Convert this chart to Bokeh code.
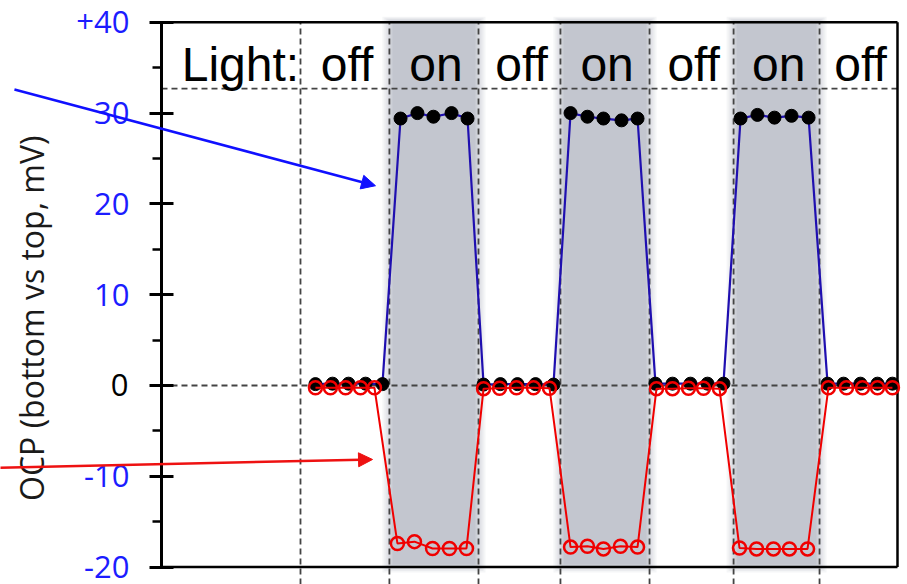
from bokeh.plotting import figure
from bokeh.models import Range1d, FixedTicker, Label, Arrow, NormalHead, LinearAxis
from bokeh.core.properties import value
from bokeh.embed import file_html
from bokeh.resources import INLINE

# ---- data: open-circuit potential, bottom electrode vs top (mV) ----
# illuminated cell measured through light off / on cycles, one reading per minute
top_t = [0.86, 1.84, 2.76, 3.74, 4.71,
         5.75, 6.72, 7.64, 8.68, 9.60,
         10.52, 11.49, 12.47, 13.51, 14.54,
         15.52, 16.49, 17.41, 18.45, 19.37,
         20.40, 21.38, 22.41, 23.39, 24.31,
         25.29, 26.26, 27.24, 28.22, 29.20,
         30.29, 31.21, 32.18, 33.16, 34.02]
top_v = [0.15, 0.2, 0.2, 0.2, 0.15,
         29.4, 30.0, 29.6, 30.0, 29.4,
         0.1, 0.15, 0.15, 0.15, 0.1,
         30.0, 29.6, 29.4, 29.2, 29.4,
         0.2, 0.2, 0.2, 0.2, 0.2,
         29.4, 29.8, 29.5, 29.7, 29.5,
         0.2, 0.2, 0.2, 0.2, 0.2]

bot_t = [0.86, 1.72, 2.59, 3.45, 4.25,
         5.57, 6.55, 7.59, 8.56, 9.54,
         10.52, 11.44, 12.41, 13.39, 14.31,
         15.52, 16.49, 17.41, 18.39, 19.37,
         20.46, 21.38, 22.30, 23.16, 24.08,
         25.23, 26.21, 27.18, 28.10, 29.14,
         30.34, 31.38, 32.30, 33.16, 34.02]
bot_v = [-0.25, -0.25, -0.25, -0.25, -0.25,
         -17.4, -17.2, -17.95, -17.95, -17.95,
         -0.35, -0.3, -0.25, -0.25, -0.3,
         -17.8, -17.7, -18.0, -17.7, -17.8,
         -0.35, -0.35, -0.3, -0.3, -0.35,
         -17.9, -18.0, -18.0, -18.0, -18.0,
         -0.25, -0.25, -0.25, -0.25, -0.25]

# light switching times (min) and the state of each interval
switch_t = [0.0, 5.11, 10.23, 14.94, 20.06, 24.89, 29.83]
light_state = ["off", "on", "off", "on", "off", "on", "off"]

y_ticks = [-20, -10, 0, 10, 20, 30, 40]
y_minor = [-15, -5, 5, 15, 25, 35]
y_min, y_max = -20, 40
t_axis = -7.989        # where the y axis crosses
t_end = 34.31          # right edge of the boxed area
header_y = 32.7        # divider under the light-state row
header_text_y = 35.4   # vertical centre of the light-state words

BLUE_TXT = "#1c1cff"
LINE_BLUE = "#1f0fb0"
RED = "#f00000"
DASH = "#444444"
SHADE = (195, 198, 207)

x_lo, x_hi = -17.241, 34.885
y_lo, y_hi = -21.92, 42.40

p = figure(width=907, height=584, output_backend="svg", toolbar_location=None,
           x_range=Range1d(x_lo, x_hi), y_range=Range1d(y_lo, y_hi),
           x_axis_location=None, y_axis_location=None,
           min_border_left=0, min_border_right=0, min_border_top=0, min_border_bottom=0)
p.outline_line_color = None
p.grid.visible = False
p.background_fill_color = "white"
p.border_fill_color = "white"

# shaded "light on" intervals with soft edges
px_t = 1 / 17.4
px_v = 1 / 9.08
n_layers = 6
for i in range(1, len(switch_t) - 1):
    if light_state[i] != "on":
        continue
    t0, t1 = switch_t[i], switch_t[i + 1]
    for k in range(n_layers):
        f = (k + 1) / n_layers
        col = "#%02x%02x%02x" % tuple(int(round(255 + (c - 255) * f)) for c in SHADE)
        d = -7 + 2 * k
        p.quad(left=t0 + d * px_t, right=t1 - d * px_t,
               bottom=y_min - 0.6 + (d + 7) * px_v * 0.8,
               top=y_max + 0.6 - (d + 7) * px_v * 0.5,
               fill_color=col, line_color=None)

# dashed guides
n_sw = len(switch_t)
p.segment(x0=switch_t, y0=[y_lo] * n_sw, x1=switch_t, y1=[y_max] * n_sw,
          line_color=DASH, line_width=1.8, line_dash="6 4")
p.segment(x0=[t_axis, t_axis], y0=[0, header_y], x1=[t_end, t_end], y1=[0, header_y],
          line_color=DASH, line_width=1.8, line_dash="6 4")

# box around the data area (left side is the y axis)
p.segment(x0=[t_axis, t_axis, t_end], y0=[y_max, y_min, y_min],
          x1=[t_end, t_end, t_end], y1=[y_max, y_min, y_max],
          line_color="black", line_width=2.5)

# series
p.line(top_t, top_v, line_color=LINE_BLUE, line_width=2.2)
p.scatter(top_t, top_v, size=13, fill_color="black", line_color="black")
p.line(bot_t, bot_v, line_color=RED, line_width=2)
p.scatter(bot_t, bot_v, size=13, fill_color=None, line_color=RED, line_width=2.5)

# light-state header
ends = switch_t[1:] + [t_end]
mids = [(a + b) / 2 + 0.12 for a, b in zip(switch_t, ends)]
header_font = value("Liberation Sans")
p.text(x=mids, y=[header_text_y] * len(mids), text=light_state, text_font=header_font,
       text_font_size="48px", text_align="center", text_baseline="middle",
       text_color="black")
p.text(x=[-0.08], y=[header_text_y], text=["Light:"], text_font=header_font,
       text_font_size="48px", text_align="right", text_baseline="middle",
       text_color="black")

# y axis, pinned at t_axis
ax = LinearAxis(fixed_location=t_axis)
ax.ticker = FixedTicker(ticks=y_ticks, minor_ticks=y_minor)
ax.bounds = (y_min, y_max)
ax.major_label_overrides = {40: "+40", 0: "", -10: "-10", -20: "-20"}
ax.major_label_text_color = BLUE_TXT
ax.major_label_text_font = "Open Sans"
ax.major_label_text_font_size = "31px"
ax.major_label_standoff = 20
ax.axis_line_width = 3
ax.major_tick_in = 12
ax.major_tick_out = 12
ax.major_tick_line_width = 3
ax.minor_tick_in = 0
ax.minor_tick_out = 9
ax.minor_tick_line_width = 2.5
p.add_layout(ax, "left")

p.add_layout(Label(x=-9.885, y=0, text="0", text_align="right", text_baseline="middle",
                   text_color="black", text_font="Open Sans", text_font_size="31px"))
p.add_layout(Label(x=-15.45, y=7.4, text="OCP (bottom vs top, mV)", angle=1.5708,
                   text_align="center", text_baseline="middle", text_color="#1a1a1a",
                   text_font="Open Sans", text_font_size="32px"))

# pointers from the side to the two traces
p.add_layout(Arrow(x_start=-16.44, y_start=32.6, x_end=4.31, y_end=22.0,
                   line_color="#1010ff", line_width=2.5,
                   end=NormalHead(size=14, fill_color="#1010ff", line_color="#1010ff")))
p.add_layout(Arrow(x_start=-17.3, y_start=-9.05, x_end=4.14, y_end=-8.15,
                   line_color="#ee1111", line_width=2.5,
                   end=NormalHead(size=14, fill_color="#ee1111", line_color="#ee1111")))

open("out.html", "w").write(file_html(p, INLINE))
